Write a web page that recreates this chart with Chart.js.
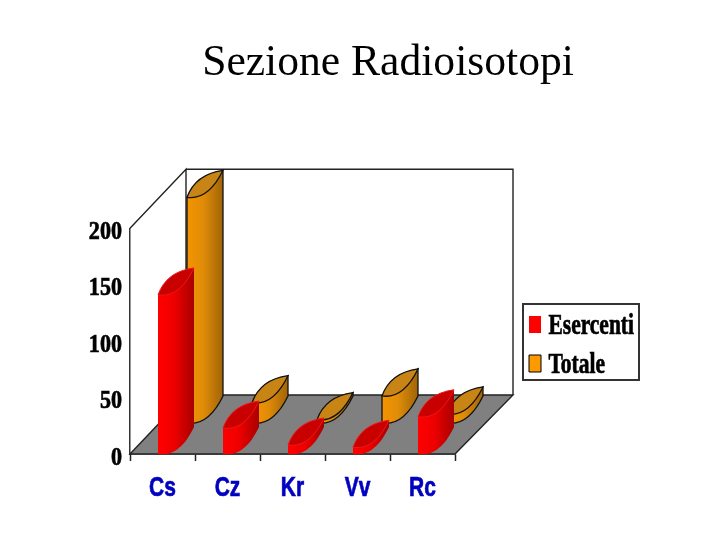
<!DOCTYPE html>
<html>
<head>
<meta charset="utf-8">
<title>Sezione Radioisotopi</title>
<script src="https://cdn.jsdelivr.net/npm/chart.js@4/dist/chart.umd.min.js"></script>
<style>
  body { margin: 0; background: #fff; }
  canvas { display: block; }
</style>
</head>
<body>
<canvas id="myChart" width="720" height="540"></canvas>
<script>
const categories = ['Cs', 'Cz', 'Kr', 'Vv', 'Rc'];
const esercenti = [141, 23, 8, 6, 33];
const totale = [200, 18, 3, 24, 8];

// the reference text is squeezed sideways and heavy, so fillText gets scaled per font
const squeezed = {
  'bold 26px "Liberation Serif"': { sx: 0.85, dx: 0, dy: 4, heavy: 0.7 },
  'bold 29px "Liberation Serif"': { sx: 0.74, dx: -7, dy: 2, heavy: 0.7 },
  'bold 28px "Liberation Sans"': { sx: 0.75, dx: 0, dy: 0, heavy: 0.7 }
};

const depth = { x: 57, y: 59 };   // floor depth of the 3d box
const cyl = { width: 36, rise: 27, shift: -4.5 };

function lowerArc(ctx, l, y, w, rise) {
  ctx.bezierCurveTo(l + 0.5 * w, y + 0.1 * rise, l + 0.8 * w, y - 0.45 * rise, l + w, y - rise);
}

function drawCylinder(ctx, l, top, bot, colors) {
  const w = cyl.width, rise = cyl.rise;
  const grad = ctx.createLinearGradient(l, 0, l + w, 0);
  grad.addColorStop(0, colors.left);
  grad.addColorStop(0.45, colors.mid);
  grad.addColorStop(1, colors.right);

  ctx.beginPath();
  ctx.moveTo(l, top);
  ctx.lineTo(l, bot);
  lowerArc(ctx, l, bot, w, rise);
  ctx.lineTo(l + w, top - rise);
  ctx.closePath();
  ctx.fillStyle = grad;
  ctx.fill();
  if (colors.line) {
    ctx.strokeStyle = colors.line;
    ctx.lineWidth = 1.3;
    ctx.stroke();
  }

  // top of the cylinder
  ctx.beginPath();
  ctx.moveTo(l, top);
  ctx.bezierCurveTo(l + 0.15 * w, top - 0.55 * rise, l + 0.45 * w, top - 0.9 * rise, l + w, top - rise);
  ctx.bezierCurveTo(l + 0.8 * w, top - 0.45 * rise, l + 0.5 * w, top + 0.1 * rise, l, top);
  ctx.closePath();
  ctx.fillStyle = colors.cap;
  ctx.fill();
  ctx.strokeStyle = colors.line || colors.capLine;
  ctx.lineWidth = colors.line ? 1.3 : 1;
  ctx.stroke();
}

const box3d = {
  id: 'box3d',
  afterLayout(chart) {
    // title is centred on the slide text, not on the canvas
    chart.titleBlock.left = 56;
    chart.titleBlock.right = 720;
    const lg = chart.legend;
    lg.left = 519;
    lg.right = 519 + lg.width;
    lg.top = 300;
    lg.bottom = 300 + lg.height;
  },
  beforeDatasetsDraw(chart) {
    const ctx = chart.ctx, a = chart.chartArea;
    ctx.save();
    ctx.strokeStyle = '#222';
    ctx.lineWidth = 1.4;

    ctx.beginPath();
    ctx.moveTo(a.left, a.bottom);
    ctx.lineTo(a.left + depth.x - 1, a.bottom - depth.y);
    ctx.lineTo(a.right + depth.x + 1, a.bottom - depth.y);
    ctx.lineTo(a.right, a.bottom);
    ctx.closePath();
    ctx.fillStyle = '#808080';
    ctx.fill();
    ctx.stroke();

    ctx.beginPath();
    ctx.moveTo(a.left, a.top);
    ctx.lineTo(a.left + depth.x - 1, a.top - depth.y);
    ctx.lineTo(a.left + depth.x - 1, a.bottom - depth.y);
    ctx.moveTo(a.left + depth.x - 1, a.top - depth.y);
    ctx.lineTo(a.right + depth.x + 1, a.top - depth.y);
    ctx.lineTo(a.right + depth.x + 1, a.bottom - depth.y);
    ctx.stroke();

    // legend frame
    ctx.lineWidth = 2;
    ctx.strokeStyle = '#333';
    ctx.strokeRect(523, 304, 116, 76);
    ctx.restore();
  },
  beforeDatasetDraw(chart, args) {
    const ctx = chart.ctx;
    const ds = chart.data.datasets[args.index];
    ctx.save();
    args.meta.data.forEach(bar => {
      drawCylinder(ctx, bar.x + cyl.shift + ds.depthX, bar.y - ds.depthY, bar.base - ds.depthY, ds.cylinder);
    });
    ctx.restore();
    return false;
  }
};

const canvas = document.getElementById('myChart');
const ctx = canvas.getContext('2d');

const plainFill = ctx.fillText;
ctx.fillText = function (text, x, y, maxWidth) {
  const fit = squeezed[this.font];
  if (!fit) return plainFill.call(this, text, x, y, maxWidth);
  this.save();
  this.translate(x + fit.dx, y + fit.dy);
  this.scale(fit.sx, 1);
  this.strokeStyle = this.fillStyle;
  this.lineWidth = fit.heavy;
  this.strokeText(text, 0, 0);
  plainFill.call(this, text, 0, 0);
  this.restore();
};

const myChart = new Chart(ctx, {
  type: 'bar',
  plugins: [box3d],
  data: {
    labels: categories,
    datasets: [{
      label: 'Esercenti',
      data: esercenti,
      backgroundColor: '#ff0000',
      borderWidth: 0,
      grouped: false,
      depthX: 0,
      depthY: 0,
      cylinder: { left: '#ff0000', mid: '#ee0000', right: '#a80000', cap: '#c80000', capLine: '#f01818' }
    }, {
      label: 'Totale',
      data: totale,
      backgroundColor: '#ff9900',
      borderColor: '#000000',
      borderWidth: 1,
      grouped: false,
      depthX: 29,
      depthY: 31,
      cylinder: { left: '#f49400', mid: '#e08c08', right: '#a06408', cap: '#c88414', line: '#111' }
    }]
  },
  options: {
    responsive: false,
    animation: false,
    layout: {
      autoPadding: false,
      padding: { left: 80, right: 265, top: 0, bottom: 0 }
    },
    plugins: {
      title: {
        display: true,
        text: 'Sezione Radioisotopi',
        color: '#000',
        font: { family: 'Liberation Serif', size: 43.6, weight: 'normal' },
        padding: { top: 37, bottom: 139 }
      },
      legend: {
        position: 'chartArea',
        align: 'start',
        labels: {
          boxWidth: 12,
          boxHeight: 17,
          padding: 10,
          color: '#000',
          font: { family: 'Liberation Serif', size: 29, weight: 'bold' }
        }
      },
      tooltip: { enabled: false }
    },
    scales: {
      x: {
        afterFit(scale) { scale.height = 86; },
        border: { color: '#222', width: 1.5 },
        grid: { drawOnChartArea: false, color: '#222', tickLength: 7, tickWidth: 1.5 },
        ticks: {
          color: '#0000c0',
          padding: 10,
          maxRotation: 0,
          font: { family: 'Liberation Sans', size: 28, weight: 'bold' }
        }
      },
      y: {
        min: 0,
        max: 200,
        afterFit(scale) { scale.width = 50; },
        border: { color: '#333', width: 1.5 },
        grid: { display: false },
        ticks: {
          stepSize: 50,
          color: '#000',
          padding: 0,
          font: { family: 'Liberation Serif', size: 26, weight: 'bold' }
        }
      }
    }
  }
});
</script>
</body>
</html>
